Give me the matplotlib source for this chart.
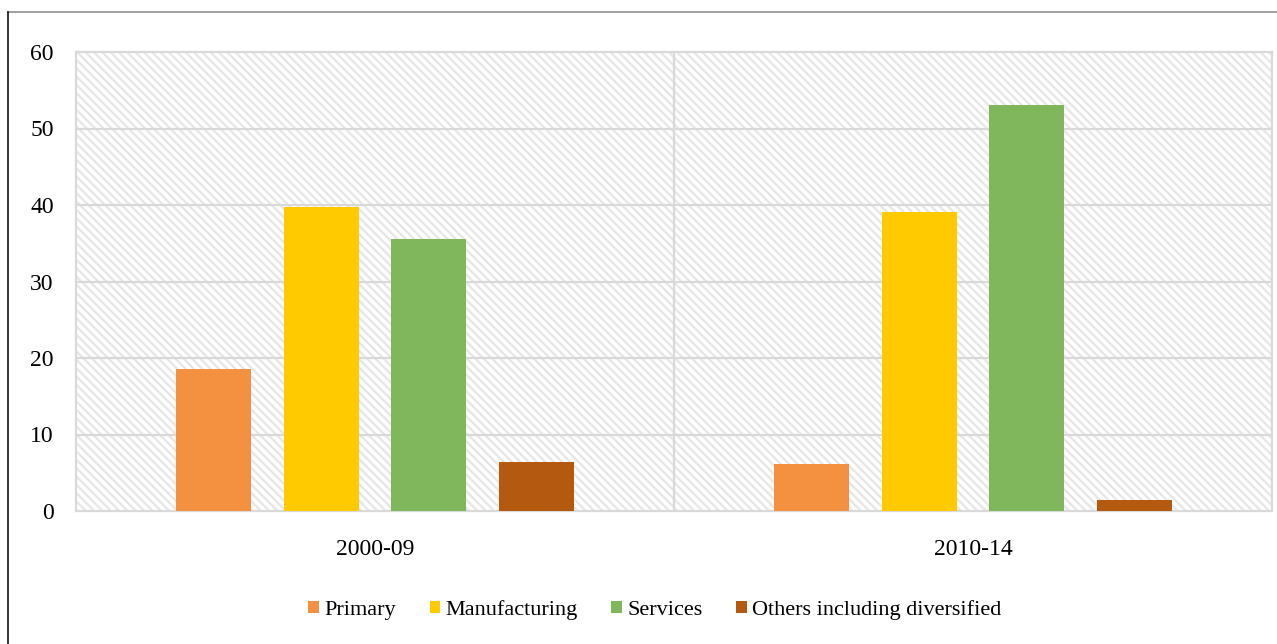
import numpy as np
import matplotlib
matplotlib.use("Agg")
import matplotlib.pyplot as plt
from matplotlib.patches import Rectangle
from matplotlib.lines import Line2D

# data
periods = ["2000-09", "2010-14"]
sectors = ["Primary", "Manufacturing", "Services", "Others including diversified"]
primary = [18.5, 6.1]
manufacturing = [39.7, 39.1]
services = [35.5, 53.1]
others = [6.4, 1.5]
colors = ["#F39141", "#FFCB00", "#80B65C", "#B35A10"]

plt.rcParams["font.family"] = ["Liberation Serif", "DejaVu Serif"]
plt.rcParams["hatch.linewidth"] = 1.6

fig = plt.figure(figsize=(12.77, 6.44), dpi=100)
ax = fig.add_axes([76 / 1277, 1 - 511 / 644, 1196 / 1277, 459 / 644])

# hatched plot-area background
ax.patch.set_facecolor("white")
bg = Rectangle((0, 0), 1, 1, transform=ax.transAxes, facecolor="white",
               edgecolor="#e6e6e6", hatch="\\\\\\\\", linewidth=0, zorder=0)
ax.add_patch(bg)

x = np.arange(len(periods))
width = 0.126
offsets = [-0.27, -0.09, 0.09, 0.27]
series = [primary, manufacturing, services, others]
for vals, off, col, name in zip(series, offsets, colors, sectors):
    ax.bar(x + off, vals, width, color=col, label=name, linewidth=0, zorder=3)

ax.set_xlim(-0.5, 1.5)
ax.set_ylim(0, 60)
ax.set_yticks(range(0, 61, 10))
ax.set_xticks(x)
ax.set_xticklabels(periods)

for yv in range(10, 60, 10):
    ax.axhline(yv, color="#d9d9d9", linewidth=1.6, zorder=1)
ax.axvline(0.5, color="#d9d9d9", linewidth=1.6, zorder=1)

for s in ax.spines.values():
    s.set_color("#d9d9d9")
    s.set_linewidth(1.6)
ax.tick_params(axis="both", length=0, labelsize=17, colors="black")
ax.tick_params(axis="y", pad=16)
ax.tick_params(axis="x", pad=20)

fig.legend(loc="center", bbox_to_anchor=(655 / 1277, 1 - 610 / 644), ncol=4,
           frameon=False, fontsize=16, handlelength=0.48, handleheight=0.48,
           handletextpad=0.25, columnspacing=1.5)

# outer frame fragments
fig.add_artist(Line2D([8 / 1277, 1], [1 - 11.5 / 644, 1 - 11.5 / 644],
                      transform=fig.transFigure, color="#8f8f8f", linewidth=1.2))
fig.add_artist(Line2D([8 / 1277, 8 / 1277], [0, 1 - 11.5 / 644],
                      transform=fig.transFigure, color="#111111", linewidth=1.2))

fig.savefig("out.png", dpi=100)
